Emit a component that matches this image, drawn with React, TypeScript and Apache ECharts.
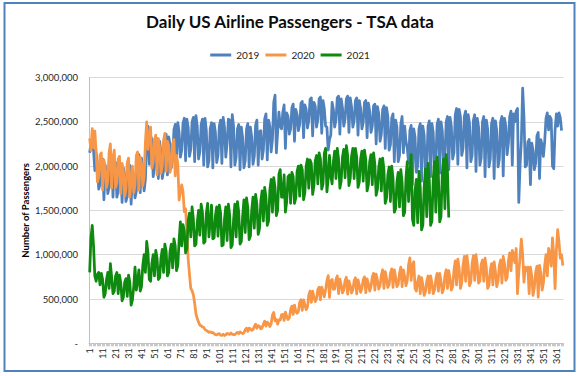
import React, { useEffect, useRef } from "react";
import * as echarts from "echarts";

// Daily passengers, in thousands, one value per day of the year
const pax2019 = [
  2150, 2250, 2200, 2180, 1950, 2150, 2000,
  1740, 1800, 2050, 2080, 1620, 2010, 1930,
  1690, 1760, 2030, 2080, 1650, 2030, 2040,
  1650, 1720, 1990, 2020, 1590, 1980, 1900,
  1600, 1660, 1960, 2010, 1570, 1920, 1850,
  1640, 1720, 2010, 2130, 1700, 2090, 1960,
  1720, 1850, 2290, 2450, 2020, 2340, 2300,
  1880, 1980, 2260, 2310, 1860, 2280, 2150,
  1860, 1950, 2280, 2360, 1900, 2330, 2240,
  1980, 2080, 2410, 2470, 2020, 2490, 2380,
  2100, 2180, 2480, 2540, 2060, 2530, 2440,
  2110, 2190, 2500, 2550, 2050, 2570, 2450,
  2080, 2160, 2470, 2530, 2010, 2540, 2400,
  1990, 2060, 2420, 2490, 1980, 2480, 2380,
  2040, 2120, 2450, 2520, 2030, 2550, 2440,
  2100, 2250, 2530, 2520, 1990, 2580, 2450,
  2010, 2100, 2420, 2470, 1960, 2440, 2320,
  1980, 2060, 2420, 2480, 1990, 2440, 2330,
  2020, 2110, 2460, 2520, 2010, 2390, 2400,
  2080, 2180, 2530, 2590, 2070, 2520, 2450,
  2160, 2300, 2720, 2800, 2150, 2380, 2610,
  2450, 2420, 2610, 2690, 2200, 2600, 2560,
  2360, 2420, 2660, 2700, 2280, 2640, 2580,
  2400, 2470, 2710, 2730, 2320, 2690, 2640,
  2430, 2510, 2750, 2770, 2340, 2720, 2680,
  2440, 2520, 2760, 2780, 2370, 2740, 2650,
  2450, 2440, 2180, 2300, 2350, 2720, 2640,
  2440, 2520, 2770, 2790, 2360, 2760, 2660,
  2450, 2530, 2760, 2790, 2380, 2770, 2670,
  2440, 2510, 2740, 2770, 2350, 2740, 2650,
  2420, 2490, 2720, 2740, 2320, 2710, 2620,
  2380, 2450, 2680, 2700, 2250, 2670, 2590,
  2280, 2360, 2640, 2680, 2200, 2660, 2560,
  2180, 2240, 2540, 2590, 2050, 2520, 2440,
  2050, 2120, 2470, 2560, 2150, 2450, 2280,
  2200, 2030, 2400, 2460, 1790, 2420, 2330,
  1930, 2000, 2420, 2480, 1830, 2450, 2350,
  1950, 2010, 2450, 2510, 1880, 2480, 2380,
  1980, 2050, 2470, 2530, 1920, 2500, 2400,
  2030, 2100, 2500, 2560, 1960, 2550, 2450,
  2080, 2150, 2580, 2650, 2020, 2640, 2560,
  2120, 2200, 2560, 2620, 1980, 2580, 2480,
  2050, 2120, 2520, 2580, 1940, 2540, 2440,
  2010, 2090, 2500, 2560, 1880, 2520, 2420,
  1990, 2080, 2480, 2540, 1860, 2510, 2400,
  1990, 2080, 2500, 2560, 1890, 2540, 2450,
  2130, 2260, 2560, 2620, 2010, 2590, 2500,
  2620, 2650, 1590, 2010, 2290, 2880, 2560,
  1990, 2010, 2270, 2300, 1790, 2260, 2180,
  1960, 2030, 2340, 2380, 1860, 2300, 2240,
  2110, 2280, 2540, 2600, 2410, 2560, 2530,
  2000, 1970, 2410, 2590, 2450, 2600, 2550,
  2400,
];

const pax2020 = [
  2312, 2178, 2422, 2210, 2395, 2160, 1820,
  1880, 2120, 2150, 1730, 2070, 1990, 1760,
  1830, 2150, 2250, 1750, 2100, 2180, 1760,
  1810, 2080, 2110, 1690, 2030, 1950, 1660,
  1740, 2040, 2090, 1650, 1830, 2000, 1700,
  1790, 2120, 2160, 1730, 2100, 2030, 1780,
  1880, 2270, 2500, 2190, 2360, 2440, 1980,
  2050, 2300, 2350, 1900, 2310, 2210, 1920,
  2000, 2290, 2370, 1940, 2280, 2230, 1930,
  2000, 2250, 2300, 1890, 2120, 2026, 1617,
  1703, 1788, 1714, 1486, 1519, 1258, 954,
  780, 621, 593, 548, 455, 331, 279,
  239, 204, 200, 184, 180, 154, 146,
  136, 124, 130, 120, 122, 108, 98,
  94, 104, 109, 93, 90, 102, 88,
  95, 112, 106, 100, 117, 103, 97,
  98, 112, 123, 110, 128, 118, 110,
  119, 154, 171, 134, 171, 164, 146,
  154, 190, 215, 170, 200, 190, 163,
  176, 215, 250, 194, 240, 223, 190,
  220, 318, 348, 254, 268, 215, 264,
  261, 322, 327, 258, 353, 304, 268,
  287, 381, 420, 326, 431, 362, 338,
  360, 465, 491, 371, 490, 433, 379,
  408, 540, 590, 462, 590, 520, 470,
  502, 607, 632, 490, 633, 590, 524,
  605, 708, 764, 518, 705, 720, 610,
  612, 720, 761, 562, 725, 660, 570,
  600, 706, 745, 556, 704, 652, 567,
  603, 705, 740, 558, 716, 660, 575,
  620, 717, 750, 572, 728, 672, 590,
  640, 750, 790, 600, 780, 710, 612,
  650, 770, 830, 620, 810, 730, 630,
  660, 790, 840, 630, 830, 745, 640,
  665, 790, 860, 640, 830, 750, 650,
  710, 890, 965, 710, 880, 920, 620,
  590, 700, 760, 560, 740, 660, 540,
  580, 700, 760, 570, 760, 680, 560,
  600, 720, 790, 590, 790, 700, 570,
  610, 760, 830, 620, 820, 730, 600,
  640, 820, 930, 660, 950, 850, 620,
  680, 880, 980, 700, 990, 870, 650,
  690, 900, 990, 710, 1000, 880, 680,
  700, 890, 940, 700, 960, 850, 620,
  650, 820, 900, 660, 920, 810, 640,
  700, 880, 940, 680, 980, 900, 710,
  740, 930, 1020, 820, 1050, 1000, 910,
  1070, 560, 800, 980, 1176, 1000, 690,
  860, 820, 860, 560, 860, 760, 540,
  630, 800, 870, 520, 880, 790, 600,
  680, 880, 1000, 760, 1070, 1010, 870,
  1190, 1000, 616, 1050, 1284, 1150, 960, 1000, 877,
];

const pax2021 = [
  800, 1190, 1330, 1100, 760, 700, 780,
  800, 660, 790, 720, 520, 560, 720,
  800, 620, 900, 740, 560, 590, 760,
  800, 560, 770, 680, 480, 520, 690,
  730, 530, 770, 690, 430, 490, 640,
  860, 600, 700, 830, 590, 640, 880,
  1000, 800, 1150, 1020, 720, 700, 900,
  1000, 760, 1050, 960, 720, 740, 960,
  1060, 800, 1120, 1040, 760, 800, 1040,
  1120, 850, 1180, 1100, 820, 880, 1160,
  1370, 1100, 1340, 1270, 1020, 1070, 1390,
  1470, 1200, 1540, 1400, 1100, 1120, 1360,
  1500, 1220, 1570, 1480, 1130, 1150, 1470,
  1580, 1200, 1370, 1560, 1180, 1190, 1440,
  1540, 1210, 1560, 1470, 1100, 1110, 1400,
  1540, 1160, 1570, 1450, 1080, 1110, 1390,
  1570, 1200, 1600, 1480, 1120, 1150, 1430,
  1620, 1250, 1640, 1530, 1170, 1210, 1500,
  1650, 1300, 1680, 1570, 1230, 1290, 1600,
  1720, 1380, 1760, 1650, 1330, 1380, 1730,
  1850, 1480, 1870, 1760, 1440, 1500, 1910,
  1960, 1650, 1650, 1900, 1480, 1600, 1880,
  1900, 1580, 1930, 1880, 1580, 1640, 1940,
  2000, 1660, 2010, 1960, 1620, 1700, 2000,
  2080, 1750, 2070, 2030, 1680, 1780, 2060,
  2120, 1800, 2150, 2080, 1740, 1800, 2140,
  2200, 1710, 1860, 2120, 1890, 1800, 2050,
  2170, 1860, 2200, 2080, 1750, 1830, 2100,
  2190, 1870, 2230, 2120, 1780, 1860, 2110,
  2200, 1860, 2200, 2100, 1760, 1820, 2080,
  2170, 1830, 2180, 2070, 1720, 1790, 2050,
  2130, 1790, 2150, 2020, 1670, 1740, 1990,
  2080, 1720, 2090, 1960, 1580, 1640, 1900,
  1990, 1600, 2000, 1860, 1480, 1520, 1820,
  1930, 1540, 1960, 1820, 1440, 1480, 1870,
  2050, 1600, 1900, 2130, 1400, 1330, 1720,
  1850, 1360, 1940, 1760, 1280, 1330, 1760,
  1970, 1430, 2030, 1830, 1330, 1380, 1850,
  2050, 1480, 2100, 1890, 1370, 1430, 1920,
  2080, 1520, 2130, 1940, 1420,
];

const seriesNames = ["2019", "2020", "2021"];
const seriesColors = ["#4F81BD", "#F79646", "#0E8A0E"];
const dayLabels = Array.from({ length: 366 }, (_, i) => String(i + 1));
const yMax = 3000000;
const yStep = 500000;

export default function App() {
  const ref = useRef<HTMLDivElement>(null);
  useEffect(() => {
    const chart = echarts.init(ref.current!, null, { renderer: "svg" });
    const all = [pax2019, pax2020, pax2021];
    chart.setOption({
      animation: false,
      backgroundColor: "#ffffff",
      textStyle: { fontFamily: "Lato, 'Open Sans', sans-serif" },
      title: {
        text: "Daily US Airline Passengers - TSA data",
        left: "center",
        top: 8,
        textStyle: { fontSize: 17, fontWeight: "bold", color: "#0d0d0d", fontFamily: "Lato" },
      },
      legend: {
        top: 45,
        left: "center",
        icon: "rect",
        itemWidth: 21,
        itemHeight: 3,
        itemGap: 6,
        data: seriesNames,
        textStyle: { fontSize: 10, color: "#262626", fontFamily: "Lato" },
      },
      grid: { left: 89, right: 16.5, top: 77.5, bottom: 32.7 },
      xAxis: {
        type: "category",
        data: dayLabels,
        boundaryGap: true,
        axisLine: { lineStyle: { color: "#bfbfbf" } },
        axisTick: { show: true, interval: 0, length: 3, lineStyle: { color: "#c8c8c8" } },
        axisLabel: { interval: 9, rotate: 90, fontSize: 9, color: "#262626", margin: 5, fontFamily: "Lato" },
        splitLine: { show: false },
      },
      yAxis: {
        type: "value",
        min: 0,
        max: yMax,
        interval: yStep,
        name: "Number of Passengers",
        nameLocation: "middle",
        nameGap: 59,
        nameMoveOverlap: false,
        nameTextStyle: { fontWeight: "bold", fontSize: 9.5, color: "#000", fontFamily: "Lato" },
        axisLine: { show: true, lineStyle: { color: "#bfbfbf" } },
        axisTick: { show: false },
        axisLabel: {
          fontSize: 9.5,
          color: "#262626",
          margin: 11,
          fontFamily: "Lato",
          formatter: (v: number) => (v === 0 ? "-" : v.toLocaleString("en-US")),
        },
        splitLine: { lineStyle: { color: "#d9d9d9" } },
      },
      series: all.map((arr, i) => ({
        name: seriesNames[i],
        type: "line",
        data: arr.map((v) => v * 1000),
        symbol: "none",
        lineStyle: { width: 2.75, color: seriesColors[i], join: "round" },
        itemStyle: { color: seriesColors[i] },
        z: 2 + i,
      })),
      graphic: [
        {
          type: "rect",
          shape: { x: 4.5, y: 3, width: 570, height: 368 },
          style: { fill: "none", stroke: "#4F81BD", lineWidth: 2 },
          silent: true,
        },
      ],
    });
    return () => chart.dispose();
  }, []);
  return (
    <div
      ref={ref}
      style={{ position: "absolute", left: 0, top: 0, width: 580, height: 376, background: "#fff" }}
    />
  );
}
